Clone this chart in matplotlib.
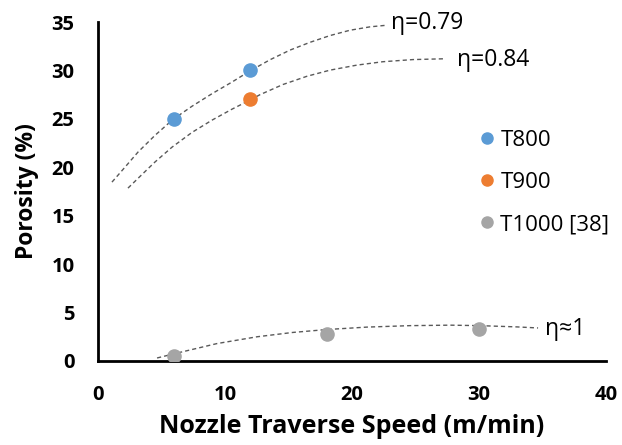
import numpy as np
import matplotlib
matplotlib.use("Agg")
import matplotlib.pyplot as plt
from matplotlib.lines import Line2D

plt.rcParams['font.family'] = ['Open Sans', 'DejaVu Sans']

# measured points
t800_x = [6, 12]
t800_y = [25, 30]
t900_x = [12]
t900_y = [27]
t1000_x = [6, 18, 30]
t1000_y = [0.5, 2.8, 3.3]

# trend lines
trend79_x = [1.1, 2.13, 3.15, 4.49, 5.91, 7.4, 8.98, 10.55, 11.97, 13.54, 15.12,
             16.69, 18.27, 19.84, 21.42, 22.76]
trend79_y = [18.47, 20.02, 21.57, 23.3, 24.95, 26.3, 27.6, 28.8, 29.95, 31.1, 32.1,
             32.9, 33.6, 34.15, 34.5, 34.67]
trend84_x = [2.36, 3.46, 4.49, 5.83, 7.4, 8.98, 10.55, 11.97, 12.76, 14.57, 16.46,
             18.27, 20.39, 22.44, 24.8, 27.17]
trend84_y = [17.85, 19.25, 20.55, 22.08, 23.6, 24.87, 26.0, 26.94, 27.5, 28.55, 29.4,
             30.03, 30.55, 30.9, 31.12, 31.2]
trend1_x = [4.65, 5.91, 9.37, 12.52, 15.35, 18.03, 21.18, 24.57, 27.72, 30.08,
            32.99, 34.65]
trend1_y = [0.31, 0.72, 1.8, 2.5, 2.95, 3.25, 3.5, 3.65, 3.7, 3.65, 3.52, 3.41]

blue = "#5B9BD5"
orange = "#ED7D31"
grey = "#A5A5A5"
dash = "#595959"

fig = plt.figure(figsize=(6.22, 4.45), dpi=100)
ax = fig.add_axes([98/622, 1-361/445, 508/622, 339/445])

for xs, ys in [(trend79_x, trend79_y), (trend84_x, trend84_y), (trend1_x, trend1_y)]:
    ax.plot(xs, ys, color=dash, lw=1.0, ls=(0, (3, 2.2)), zorder=2)

ax.scatter(t800_x, t800_y, s=90, color=blue, zorder=3)
ax.scatter(t900_x, t900_y, s=90, color=orange, zorder=3)
ax.scatter(t1000_x, t1000_y, s=90, color=grey, zorder=3)

ax.text(23.1, 34.9, "η=0.79", fontsize=16.5, va="center", ha="left")
ax.text(28.3, 31.1, "η=0.84", fontsize=16.5, va="center", ha="left")
ax.text(35.2, 3.3, "η≈1", fontsize=16.5, va="center", ha="left")

handles = [Line2D([], [], ls="", marker="o", ms=8, color=c) for c in (blue, orange, grey)]
ax.legend(handles, ["T800", "T900", "T1000 [38]"], loc="upper left",
          bbox_to_anchor=(0.722, 0.708), frameon=False, fontsize=16,
          handletextpad=0.0, labelspacing=0.95, handlelength=1.2,
          borderaxespad=0)

ax.set_xlim(0, 40)
ax.set_ylim(0, 35)
ax.set_xticks([0, 10, 20, 30, 40])
ax.set_yticks(range(0, 36, 5))
ax.tick_params(length=0, labelsize=14.5, pad=17)
for lab in ax.get_xticklabels() + ax.get_yticklabels():
    lab.set_fontweight("bold")
ax.spines["top"].set_visible(False)
ax.spines["right"].set_visible(False)
ax.spines["left"].set_linewidth(2)
ax.spines["bottom"].set_linewidth(2)
ax.set_xlabel("Nozzle Traverse Speed (m/min)", fontsize=18, fontweight="bold", labelpad=7)
ax.set_ylabel("Porosity (%)", fontsize=16.5, fontweight="bold", labelpad=9)

fig.savefig("out.png", dpi=100)
